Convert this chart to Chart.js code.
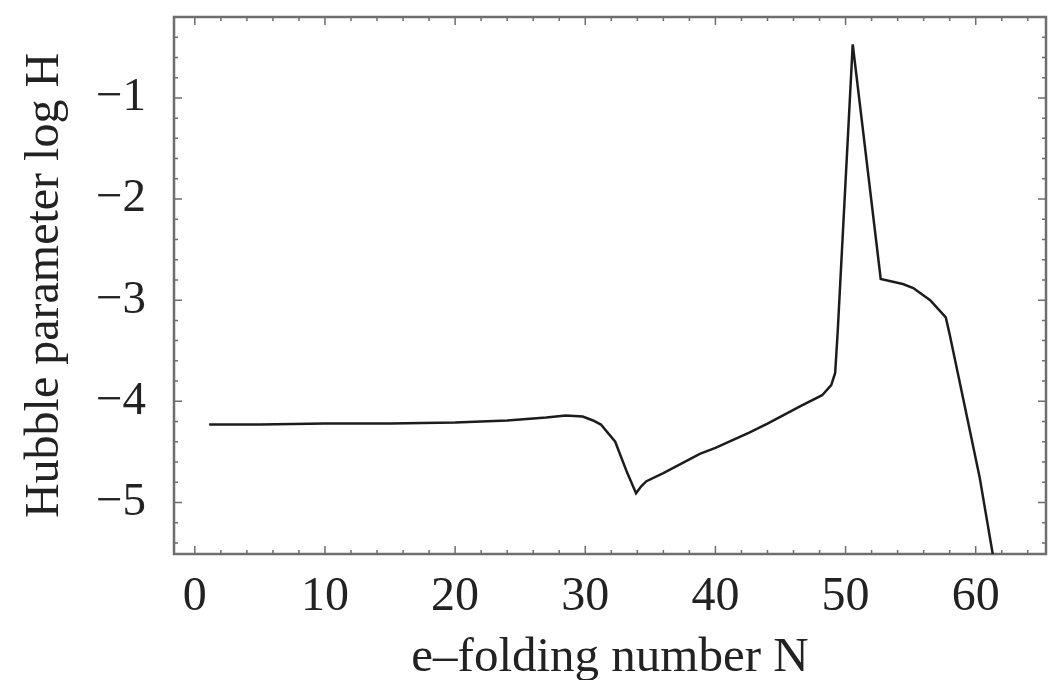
<!DOCTYPE html>
<html>
<head>
<meta charset="utf-8">
<script src="https://cdn.jsdelivr.net/npm/chart.js@4"></script>
<style>
  body { margin: 0; background: #fff; }
</style>
</head>
<body>
<canvas id="hubbleChart" width="1056" height="680"></canvas>
<script>
// e-folding number N and log H
var efoldN = [1.1, 5, 10, 15, 20, 24, 27, 28.5, 29.8, 30.6, 31.2, 32.3, 33.2, 33.9, 34.3, 34.7, 36, 38.8, 40, 42.6, 44, 46.5, 48.2, 48.9, 49.2, 49.4, 50.55, 52.7, 54.4, 55.2, 56.5, 57.7, 58.0, 58.8, 59.5, 60.3, 61.4];
var logH = [-4.23, -4.23, -4.22, -4.22, -4.21, -4.19, -4.16, -4.14, -4.15, -4.19, -4.23, -4.40, -4.70, -4.91, -4.84, -4.79, -4.71, -4.52, -4.46, -4.31, -4.22, -4.05, -3.94, -3.84, -3.72, -3.3, -0.47, -2.79, -2.84, -2.88, -3.0, -3.17, -3.34, -3.83, -4.26, -4.75, -5.58];

var xTickLabels = [0, 10, 20, 30, 40, 50, 60];
var yTickLabels = [-5, -4, -3, -2, -1];
var xMinorStep = 2;
var yMinorStep = 0.2;

var serif = 'Liberation Serif';

// mathematica style frame with inward ticks on all four sides
var framePlugin = {
    id: 'frame',
    beforeDatasetsDraw: function (chart) {
        var ctx = chart.ctx;
        var a = chart.chartArea;
        var xs = chart.scales.x, ys = chart.scales.y;
        ctx.save();
        ctx.strokeStyle = '#6e6e6e';
        ctx.lineWidth = 1.5;
        var v, p, len;
        for (v = 0; v <= xs.max; v += xMinorStep) {
            p = xs.getPixelForValue(v);
            len = xTickLabels.indexOf(v) >= 0 ? 8 : 4;
            ctx.beginPath();
            ctx.moveTo(p, a.bottom); ctx.lineTo(p, a.bottom - len);
            ctx.moveTo(p, a.top); ctx.lineTo(p, a.top + len);
            ctx.stroke();
        }
        for (var i = Math.ceil(ys.min / yMinorStep); i * yMinorStep <= ys.max; i++) {
            v = Math.round(i * yMinorStep * 10) / 10;
            p = ys.getPixelForValue(v);
            len = yTickLabels.indexOf(v) >= 0 ? 8 : 4;
            ctx.beginPath();
            ctx.moveTo(a.left, p); ctx.lineTo(a.left + len, p);
            ctx.moveTo(a.right, p); ctx.lineTo(a.right - len, p);
            ctx.stroke();
        }
        ctx.lineWidth = 2.5;
        ctx.strokeRect(a.left, a.top, a.right - a.left, a.bottom - a.top);
        ctx.restore();
    }
};

var points = efoldN.map(function (n, i) { return { x: n, y: logH[i] }; });

new Chart(document.getElementById('hubbleChart').getContext('2d'), {
    type: 'line',
    data: {
        datasets: [{
            data: points,
            borderColor: '#1c1c1c',
            borderWidth: 2.5,
            pointRadius: 0,
            tension: 0,
            fill: false
        }]
    },
    options: {
        responsive: false,
        animation: false,
        devicePixelRatio: 1,
        layout: { padding: { top: 17, right: 10, left: 0, bottom: 0 } },
        plugins: { legend: { display: false }, tooltip: { enabled: false } },
        scales: {
            x: {
                type: 'linear',
                min: -1.6,
                max: 65.4,
                grid: { display: false },
                border: { display: false },
                afterBuildTicks: function (s) {
                    s.ticks = xTickLabels.map(function (v) { return { value: v }; });
                },
                afterFit: function (s) {
                    s.height = 126;
                    s.paddingLeft = 0;
                    s.paddingRight = 0;
                },
                ticks: {
                    autoSkip: false,
                    maxRotation: 0,
                    padding: 7,
                    color: '#222',
                    font: { family: serif, size: 48 }
                },
                title: {
                    display: true,
                    text: 'e–folding number N',
                    color: '#222',
                    font: { family: serif, size: 49 },
                    padding: { top: 0, bottom: -8 }
                }
            },
            y: {
                min: -5.51,
                max: -0.2,
                grid: { display: false },
                border: { display: false },
                afterBuildTicks: function (s) {
                    s.ticks = yTickLabels.map(function (v) { return { value: v }; });
                },
                afterFit: function (s) {
                    s.width = 174;
                    s.paddingTop = 0;
                    s.paddingBottom = 0;
                },
                ticks: {
                    padding: 20,
                    color: '#222',
                    font: { family: serif, size: 47 },
                    callback: function (v) { return '\u2212' + Math.abs(v); }
                },
                title: {
                    display: true,
                    text: 'Hubble parameter log H',
                    color: '#222',
                    font: { family: serif, size: 48 },
                    padding: { top: 17, bottom: 0 }
                }
            }
        }
    },
    plugins: [framePlugin]
});
</script>
</body>
</html>
